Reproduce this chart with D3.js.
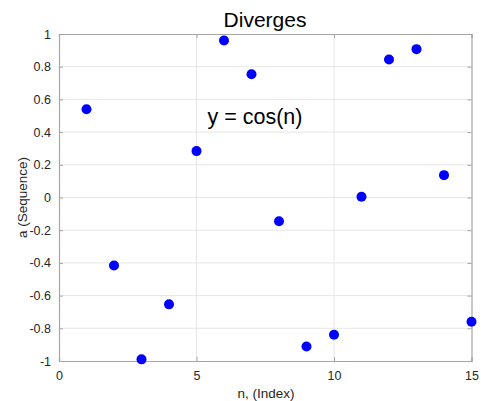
<!DOCTYPE html>
<html>
<head>
<meta charset="utf-8">
<script src="https://cdn.jsdelivr.net/npm/d3@7"></script>
<style>
  html, body { margin: 0; padding: 0; background: #fff; }
  svg { display: block; font-family: "Liberation Sans", Arial, Helvetica, sans-serif; }
</style>
</head>
<body>
<script>
// Sequence index and values a(n) = cos(n)
const indices = [1, 2, 3, 4, 5, 6, 7, 8, 9, 10, 11, 12, 13, 14, 15];
const values = [0.5403, -0.4161, -0.9900, -0.6536, 0.2837, 0.9602, 0.7539, -0.1455,
                -0.9111, -0.8391, 0.0044, 0.8439, 0.9074, 0.1367, -0.7597];
const xTicks = [0, 5, 10, 15];
const yTicks = [-1, -0.8, -0.6, -0.4, -0.2, 0, 0.2, 0.4, 0.6, 0.8, 1];

const W = 481, H = 401;
const margin = { left: 59, right: 9.5, top: 34, bottom: 40 };

const svg = d3.select("body").append("svg").attr("width", W).attr("height", H);

const x = d3.scaleLinear().domain([0, 15]).range([margin.left, W - margin.right]);
const y = d3.scaleLinear().domain([-1, 1]).range([H - margin.bottom, margin.top]);

// grid
const grid = svg.append("g");
grid.selectAll(".gx").data(xTicks.slice(1, -1)).join("line")
  .attr("x1", d => x(d)).attr("x2", d => x(d))
  .attr("y1", y(-1)).attr("y2", y(1))
  .attr("stroke", "#e6e6e6").attr("stroke-width", 1);
grid.selectAll(".gy").data(yTicks.slice(1, -1)).join("line")
  .attr("x1", x(0)).attr("x2", x(15))
  .attr("y1", d => y(d)).attr("y2", d => y(d))
  .attr("stroke", "#e6e6e6").attr("stroke-width", 1);

// axes with inward ticks
const fmt = d => d === 0 ? "0" : String(d);
const xAxis = svg.append("g").attr("transform", `translate(0,${y(-1)})`)
  .call(d3.axisBottom(x).tickValues(xTicks).tickSize(-4).tickPadding(10).tickFormat(fmt));
const yAxis = svg.append("g").attr("transform", `translate(${x(0)},0)`)
  .call(d3.axisLeft(y).tickValues(yTicks).tickSize(-4).tickPadding(8).tickFormat(fmt));
const xTop = svg.append("g").attr("transform", `translate(0,${y(1)})`)
  .call(d3.axisTop(x).tickValues(xTicks).tickSize(-4).tickFormat(""));
const yRight = svg.append("g").attr("transform", `translate(${x(15)},0)`)
  .call(d3.axisRight(y).tickValues(yTicks).tickSize(-4).tickFormat(""));

[xAxis, yAxis, xTop, yRight].forEach(g => {
  g.select(".domain").attr("stroke", "#a6a6a6").attr("stroke-width", 1.2);
  g.selectAll(".tick line").attr("stroke", "#a6a6a6");
  g.selectAll(".tick text").attr("fill", "#262626").attr("font-size", 12.5)
    .attr("font-family", "Liberation Sans, Arial, sans-serif");
});

// points
svg.append("g").selectAll("circle").data(indices).join("circle")
  .attr("cx", (d) => x(d))
  .attr("cy", (d, i) => y(values[i]))
  .attr("r", 5)
  .attr("fill", "#0000ff");

// title and labels
svg.append("text").attr("x", 265).attr("y", 26.5)
  .attr("text-anchor", "middle").attr("font-size", 21).attr("fill", "#000")
  .text("Diverges");
svg.append("text").attr("x", 255).attr("y", 124)
  .attr("text-anchor", "middle").attr("font-size", 21.5).attr("fill", "#000")
  .text("y = cos(n)");
svg.append("text").attr("x", 266).attr("y", 397.5)
  .attr("text-anchor", "middle").attr("font-size", 13.5).attr("fill", "#262626")
  .text("n, (Index)");
svg.append("text")
  .attr("transform", `translate(26.5,197.5) rotate(-90)`)
  .attr("text-anchor", "middle").attr("font-size", 13.5).attr("fill", "#262626")
  .text("a (Sequence)");
</script>
</body>
</html>
